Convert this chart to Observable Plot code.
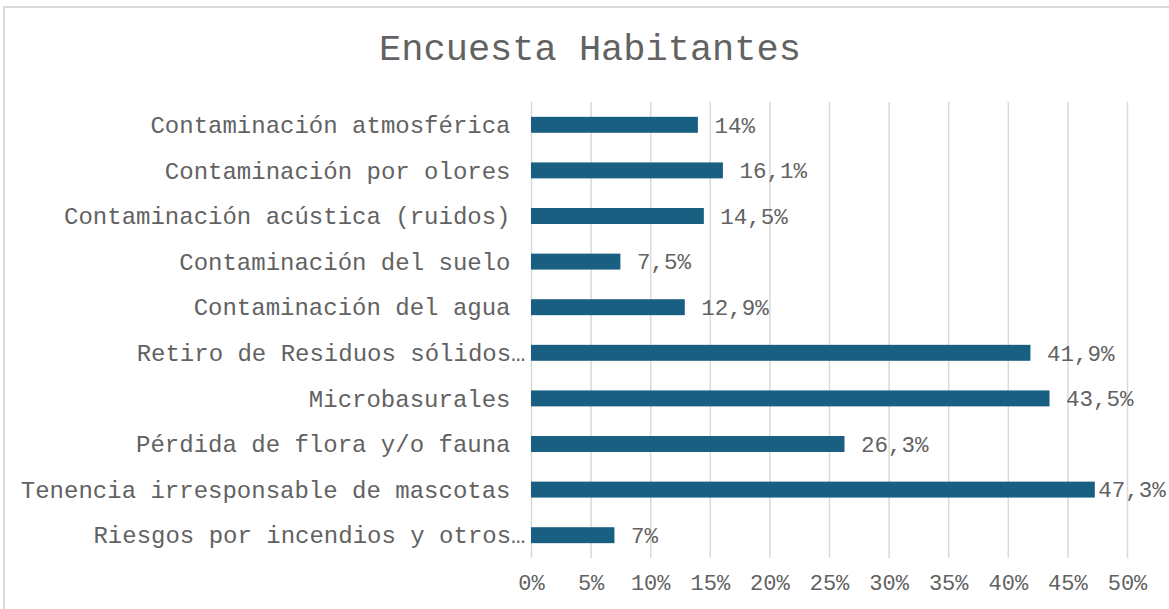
<!DOCTYPE html>
<html>
<head>
<meta charset="utf-8">
<script src="https://cdn.jsdelivr.net/npm/d3@7"></script>
<script src="https://cdn.jsdelivr.net/npm/@observablehq/plot@0.6"></script>
<style>
  html, body { margin: 0; padding: 0; background: #fff; }
  #wrap { position: relative; width: 1169px; height: 609px; overflow: hidden; background: #fff; }
  #frame { position: absolute; left: 3px; top: 6px; width: 1180px; height: 620px; border: 2px solid #d9d9d9; box-sizing: border-box; }
  #title { position: absolute; left: 5px; width: 1170px; top: 32px; text-align: center;
           font-family: "Liberation Mono", "Courier New", monospace; font-size: 37px; line-height: 1; color: #626262; }
  #chart { position: absolute; left: 0; top: 0; }
</style>
</head>
<body>
<div id="wrap">
  <div id="frame"></div>
  <div id="chart"></div>
  <div id="title">Encuesta Habitantes</div>
</div>
<script>
const categories = [
  "Contaminación atmosférica",
  "Contaminación por olores",
  "Contaminación acústica (ruidos)",
  "Contaminación del suelo",
  "Contaminación del agua",
  "Retiro de Residuos sólidos…",
  "Microbasurales",
  "Pérdida de flora y/o fauna",
  "Tenencia irresponsable de mascotas",
  "Riesgos por incendios y otros…"
];
const values = [14, 16.1, 14.5, 7.5, 12.9, 41.9, 43.5, 26.3, 47.3, 7];
const xTicks = [0, 5, 10, 15, 20, 25, 30, 35, 40, 45, 50];

const data = categories.map((c, i) => ({cat: c, v: values[i]}));
const fmt = v => String(v).replace(".", ",") + "%";
const font = "'Liberation Mono', 'Courier New', monospace";
const textColor = "#626262";
const truncated = categories.filter(c => c.endsWith("…"));
const full = categories.filter(c => !c.endsWith("…"));

const chart = Plot.plot({
  width: 1169,
  height: 609,
  marginLeft: 531,
  marginRight: 42,
  marginTop: 102,
  marginBottom: 51,
  style: {fontFamily: font, color: textColor, background: "transparent", overflow: "visible"},
  x: {domain: [0, 50], ticks: xTicks},
  y: {domain: categories, paddingInner: 0.65, paddingOuter: 0.325, round: false},
  marks: [
    Plot.gridX(xTicks, {stroke: "#d9d9d9", strokeOpacity: 1, strokeWidth: 1.5}),
    Plot.barX(data, {x: "v", y: "cat", fill: "#185f82"}),
    Plot.text(data.filter(d => d.v < 46), {x: "v", y: "cat", text: d => fmt(d.v), textAnchor: "start", dx: 16, fontSize: 22.5, fill: textColor, fontFamily: font}),
    Plot.text(data.filter(d => d.v >= 46), {x: "v", y: "cat", text: d => fmt(d.v), textAnchor: "start", dx: 3, fontSize: 22.5, fill: textColor, fontFamily: font}),
    Plot.axisX(xTicks, {tickSize: 0, tickPadding: 16, fontSize: 22, fill: textColor, tickFormat: d => d + "%", label: null, fontFamily: font}),
    Plot.axisY(full, {tickSize: 0, tickPadding: 21, fontSize: 24, fill: textColor, label: null, fontFamily: font}),
    Plot.axisY(truncated, {tickSize: 0, tickPadding: 21, dx: 15, fontSize: 24, fill: textColor, label: null, fontFamily: font})
  ]
});
document.getElementById("chart").appendChild(chart);
</script>
</body>
</html>
